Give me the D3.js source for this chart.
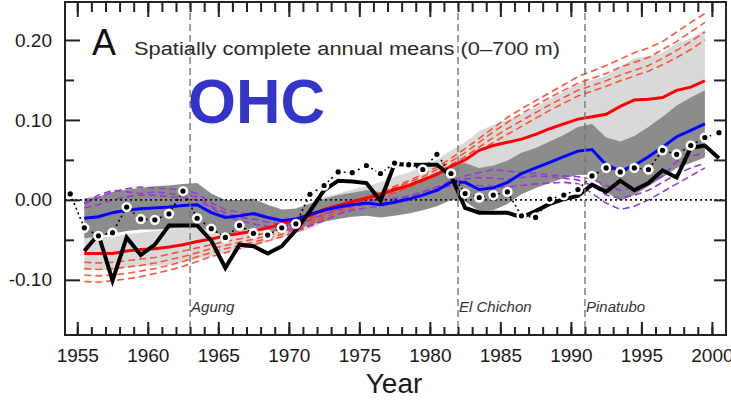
<!DOCTYPE html>
<html>
<head>
<meta charset="utf-8">
<script src="https://cdn.jsdelivr.net/npm/d3@7"></script>
<style>
  html, body { margin: 0; padding: 0; background: #fff; }
  svg { display: block; font-family: "Liberation Sans", Arial, Helvetica, sans-serif; }
</style>
</head>
<body>
<svg id="chart" width="731" height="400"></svg>
<script>
// Model ensemble years (annual means, plotted at mid-year)
const modelYears = d3.range(1955, 2000);
// Observation years
const obsYears = d3.range(1954, 2001);

// Ensemble mean with volcanic forcing (blue) and its spread (dark band)
const meanV = [
  -0.023, -0.021, -0.016, -0.013, -0.011, -0.010, -0.009, -0.007, -0.006,
  -0.016, -0.022, -0.020, -0.017, -0.022, -0.026, -0.024, -0.018, -0.013,
  -0.009, -0.006, -0.004, -0.006, -0.003, 0.001, 0.006, 0.012, 0.022,
  0.022, 0.013, 0.015, 0.022, 0.033, 0.040, 0.047, 0.054, 0.061,
  0.063, 0.044, 0.036, 0.043, 0.054, 0.066, 0.079, 0.087, 0.095
];
const spreadV = [
  0.025, 0.025, 0.026, 0.026, 0.026, 0.027, 0.027, 0.027, 0.027,
  0.024, 0.022, 0.020, 0.018, 0.016, 0.014, 0.013, 0.013, 0.014,
  0.015, 0.015, 0.016, 0.016, 0.017, 0.018, 0.019, 0.020, 0.022,
  0.024, 0.027, 0.028, 0.027, 0.026, 0.025, 0.026, 0.027, 0.030,
  0.032, 0.034, 0.037, 0.037, 0.037, 0.038, 0.039, 0.041, 0.042
];

// Ensemble mean without volcanic forcing (red) and its spread (light band)
const meanNoV = [
  -0.067, -0.067, -0.067, -0.064, -0.062, -0.061, -0.059, -0.056, -0.052,
  -0.049, -0.045, -0.042, -0.039, -0.035, -0.030, -0.026, -0.020, -0.012,
  -0.007, -0.002, 0.002, 0.007, 0.013, 0.018, 0.025, 0.032, 0.042,
  0.050, 0.062, 0.068, 0.072, 0.076, 0.082, 0.089, 0.095, 0.101,
  0.104, 0.107, 0.117, 0.125, 0.126, 0.128, 0.137, 0.141, 0.149
];
const spreadNoV = [
  0.020, 0.020, 0.021, 0.021, 0.021, 0.022, 0.022, 0.022, 0.022,
  0.022, 0.021, 0.020, 0.019, 0.018, 0.017, 0.016, 0.016, 0.016,
  0.015, 0.015, 0.015, 0.015, 0.016, 0.016, 0.017, 0.018, 0.020,
  0.022, 0.024, 0.026, 0.028, 0.031, 0.034, 0.037, 0.040, 0.044,
  0.046, 0.048, 0.050, 0.052, 0.054, 0.056, 0.059, 0.061, 0.064
];

// Individual runs with volcanic forcing (purple dashed)
const runV1 = [
  -0.005, 0.003, 0.010, 0.014, 0.016, 0.015, 0.014, 0.012, 0.008,
  -0.004, -0.012, -0.016, -0.019, -0.022, -0.024, -0.027, -0.020, -0.012,
  -0.008, -0.004, -0.002, 0.000, 0.002, 0.005, 0.010, 0.016, 0.024,
  0.030, 0.034, 0.038, 0.036, 0.034, 0.033, 0.031, 0.030, 0.029,
  0.026, 0.018, 0.012, 0.016, 0.020, 0.030, 0.048, 0.055, 0.058
];
const runV2 = [
  -0.010, -0.006, 0.000, 0.004, 0.006, 0.006, 0.004, 0.003, 0.000,
  -0.010, -0.020, -0.026, -0.030, -0.033, -0.036, -0.038, -0.032, -0.026,
  -0.018, -0.013, -0.010, -0.008, -0.004, 0.000, 0.006, 0.012, 0.018,
  0.020, 0.018, 0.017, 0.016, 0.018, 0.020, 0.021, 0.022, 0.020,
  0.008, -0.004, -0.012, -0.008, 0.000, 0.010, 0.020, 0.030, 0.040
];
const runV3 = [
  -0.004, 0.006, 0.012, 0.010, 0.008, 0.010, 0.008, 0.006, 0.004,
  -0.008, -0.016, -0.022, -0.024, -0.028, -0.030, -0.032, -0.025, -0.018,
  -0.012, -0.008, -0.006, -0.004, 0.000, 0.004, 0.010, 0.016, 0.022,
  0.026, 0.028, 0.027, 0.026, 0.028, 0.030, 0.029, 0.027, 0.025,
  0.018, 0.006, 0.002, 0.006, 0.012, 0.022, 0.032, 0.040, 0.046
];

// Individual runs without volcanic forcing (red dashed)
const runNoV1 = [
  -0.078, -0.079, -0.078, -0.076, -0.074, -0.072, -0.068, -0.064, -0.060,
  -0.056, -0.052, -0.049, -0.045, -0.041, -0.036, -0.031, -0.024, -0.015,
  -0.009, -0.003, 0.004, 0.010, 0.017, 0.024, 0.032, 0.041, 0.052,
  0.064, 0.077, 0.090, 0.103, 0.114, 0.124, 0.134, 0.144, 0.154,
  0.161, 0.168, 0.176, 0.184, 0.190, 0.198, 0.210, 0.222, 0.233
];
const runNoV2 = [
  -0.086, -0.087, -0.086, -0.084, -0.082, -0.079, -0.075, -0.071, -0.066,
  -0.061, -0.057, -0.053, -0.049, -0.045, -0.040, -0.034, -0.027, -0.019,
  -0.012, -0.005, 0.002, 0.008, 0.015, 0.022, 0.029, 0.038, 0.048,
  0.059, 0.072, 0.085, 0.097, 0.108, 0.118, 0.128, 0.137, 0.146,
  0.152, 0.158, 0.166, 0.172, 0.178, 0.188, 0.198, 0.210, 0.222
];
const runNoV3 = [
  -0.094, -0.095, -0.094, -0.092, -0.089, -0.086, -0.082, -0.077, -0.071,
  -0.066, -0.061, -0.057, -0.053, -0.048, -0.043, -0.037, -0.030, -0.022,
  -0.015, -0.008, -0.001, 0.006, 0.012, 0.019, 0.026, 0.034, 0.044,
  0.054, 0.066, 0.078, 0.089, 0.099, 0.109, 0.119, 0.128, 0.137,
  0.143, 0.149, 0.156, 0.162, 0.168, 0.177, 0.187, 0.198, 0.210
];
const runNoV4 = [
  -0.102, -0.103, -0.101, -0.099, -0.096, -0.092, -0.088, -0.083, -0.077,
  -0.071, -0.066, -0.061, -0.056, -0.051, -0.046, -0.040, -0.033, -0.025,
  -0.018, -0.011, -0.004, 0.003, 0.009, 0.016, 0.023, 0.031, 0.040,
  0.050, 0.061, 0.072, 0.082, 0.092, 0.102, 0.112, 0.121, 0.130,
  0.136, 0.142, 0.149, 0.155, 0.161, 0.169, 0.178, 0.188, 0.200
];

// Observed heat content, first analysis (thick black, 1955-2000)
const obsSolid = [
  null,
  -0.064, -0.043, -0.101, -0.047, -0.069, -0.056, -0.032, -0.032, -0.032,
  -0.051, -0.085, -0.056, -0.058, -0.067, -0.058, -0.038, -0.014, 0.012,
  0.024, 0.023, 0.021, -0.001, 0.045, 0.044, 0.044, 0.044, 0.030,
  -0.010, -0.016, -0.016, -0.016, -0.022, -0.014, -0.005, 0.001, 0.005,
  0.019, 0.010, 0.024, 0.012, 0.021, 0.037, 0.028, 0.065, 0.068,
  0.052
];
// Observed heat content, second analysis (dotted with markers, 1954-2000)
const obsDotted = [
  0.0075,
  -0.035, -0.045, -0.041, -0.009, -0.024, -0.025, -0.0175, 0.011, -0.023,
  -0.036, -0.047, -0.032, -0.042, -0.044, -0.035, -0.030, 0.007, 0.018,
  0.035, 0.034, 0.043, 0.033, 0.046, 0.044, 0.038, 0.057, 0.033,
  0.008, 0.003, 0.006, 0.010, -0.020, -0.022, 0.001, 0.006, 0.013,
  0.030, 0.040, 0.035, 0.040, 0.038, 0.062, 0.057, 0.068, 0.078,
  0.084
];

// Volcanic eruptions
const eruptionYears = [1963, 1982, 1991];
const eruptionNames = ["Agung", "El Chichon", "Pinatubo"];

// Axis ticks
const yMajorTicks = [-0.10, 0.00, 0.10, 0.20];
const yMinorTicks = [-0.05, 0.05, 0.15];
const xMajorTicks = [1955, 1960, 1965, 1970, 1975, 1980, 1985, 1990, 1995, 2000];
const xMinorTicks = d3.range(1955, 2001);

const svg = d3.select("#chart");
const pLeft = 65, pRight = 726, pTop = 2, pBottom = 335;

const x = d3.scaleLinear().domain([1954.13, 2001.0]).range([pLeft, pRight]);
const y = d3.scaleLinear().domain([-0.169, 0.25]).range([pBottom, 0]);

const plot = svg.append("g");
plot.append("clipPath").attr("id", "clip")
  .append("rect").attr("x", pLeft).attr("y", pTop).attr("width", pRight - pLeft).attr("height", pBottom - pTop);
const g = plot.append("g").attr("clip-path", "url(#clip)");

const mx = i => x(modelYears[i] + 0.5);
const ox = i => x(obsYears[i] + 0.5);

// Spread bands
const bandNoV = d3.area().x((d, i) => mx(i))
  .y0((d, i) => y(meanNoV[i] - spreadNoV[i])).y1((d, i) => y(meanNoV[i] + spreadNoV[i]));
const bandV = d3.area().x((d, i) => mx(i))
  .y0((d, i) => y(meanV[i] - spreadV[i])).y1((d, i) => y(meanV[i] + spreadV[i]));
g.append("path").attr("d", bandNoV(meanNoV)).attr("fill", "#d9d9d9");
g.append("path").attr("d", bandV(meanV)).attr("fill", "#8c8c8c");

const modelLine = d3.line().x((d, i) => mx(i)).y(d => y(d));

// Individual runs
[runNoV1, runNoV2, runNoV3, runNoV4].forEach(run => {
  g.append("path").attr("d", modelLine(run)).attr("fill", "none")
    .attr("stroke", "#ff3a1a").attr("stroke-width", 1.6).attr("stroke-opacity", 0.85)
    .attr("stroke-dasharray", "7,4");
});
[runV1, runV2, runV3].forEach(run => {
  g.append("path").attr("d", modelLine(run)).attr("fill", "none")
    .attr("stroke", "#9a3ad6").attr("stroke-width", 1.6)
    .attr("stroke-dasharray", "7,4");
});

// Zero reference line
g.append("line").attr("x1", pLeft).attr("x2", pRight).attr("y1", y(0)).attr("y2", y(0))
  .attr("stroke", "#111").attr("stroke-width", 1.6).attr("stroke-dasharray", "2,3");

// Eruption markers
eruptionYears.forEach((yr, i) => {
  plot.append("line").attr("x1", x(yr)).attr("x2", x(yr)).attr("y1", pTop).attr("y2", pBottom)
    .attr("stroke", "#777").attr("stroke-width", 1.4).attr("stroke-dasharray", "7,4");
  plot.append("text").attr("x", x(yr) + 1).attr("y", 312)
    .attr("font-size", 15).attr("font-style", "italic").attr("fill", "#333")
    .text(eruptionNames[i]);
});

// Ensemble means
g.append("path").attr("d", modelLine(meanNoV)).attr("fill", "none")
  .attr("stroke", "#ff0000").attr("stroke-width", 3);
g.append("path").attr("d", modelLine(meanV)).attr("fill", "none")
  .attr("stroke", "#0000ff").attr("stroke-width", 3);

// Observations
const obsLine = d3.line().defined(d => d != null).x((d, i) => ox(i)).y(d => y(d));
g.append("path").attr("d", obsLine(obsSolid)).attr("fill", "none")
  .attr("stroke", "#000").attr("stroke-width", 4).attr("stroke-linejoin", "miter");
g.append("path").attr("d", obsLine(obsDotted)).attr("fill", "none")
  .attr("stroke", "#000").attr("stroke-width", 1.6).attr("stroke-dasharray", "2,3");
const marks = g.append("g");
marks.selectAll("circle.halo").data(obsDotted).join("circle").attr("class", "halo")
  .attr("cx", (d, i) => ox(i)).attr("cy", d => y(d)).attr("r", 5.2).attr("fill", "#fff");
marks.selectAll("circle.dot").data(obsDotted).join("circle").attr("class", "dot")
  .attr("cx", (d, i) => ox(i)).attr("cy", d => y(d)).attr("r", 2.6).attr("fill", "#000");

// Frame
plot.append("rect").attr("x", pLeft).attr("y", pTop).attr("width", pRight - pLeft).attr("height", pBottom - pTop)
  .attr("fill", "none").attr("stroke", "#222").attr("stroke-width", 2);

const fmt = d => d3.format(".2f")(d).replace("\u2212", "-");

// Left axis
const yAxisL = svg.append("g").attr("transform", `translate(${pLeft},0)`)
  .call(d3.axisLeft(y).tickValues(yMajorTicks).tickSizeInner(-15).tickSizeOuter(0).tickPadding(13).tickFormat(fmt));
const yAxisLm = svg.append("g").attr("transform", `translate(${pLeft},0)`)
  .call(d3.axisLeft(y).tickValues(yMinorTicks).tickSizeInner(-9).tickSizeOuter(0).tickFormat(""));
// Right axis
const yAxisR = svg.append("g").attr("transform", `translate(${pRight},0)`)
  .call(d3.axisRight(y).tickValues(yMajorTicks.concat(yMinorTicks)).tickSizeInner(-12).tickSizeOuter(0).tickFormat(""));
// Bottom axis
const xAxisB = svg.append("g").attr("transform", `translate(0,${pBottom})`)
  .call(d3.axisBottom(x).tickValues(xMajorTicks).tickSizeInner(-13).tickSizeOuter(0).tickPadding(14).tickFormat(d3.format("d")));
const xAxisBm = svg.append("g").attr("transform", `translate(0,${pBottom})`)
  .call(d3.axisBottom(x).tickValues(xMinorTicks).tickSizeInner(-8).tickSizeOuter(0).tickFormat(""));
// Top axis
const xAxisT = svg.append("g").attr("transform", `translate(0,${pTop})`)
  .call(d3.axisTop(x).tickValues(xMajorTicks).tickSizeInner(-15).tickSizeOuter(0).tickFormat(""));
const xAxisTm = svg.append("g").attr("transform", `translate(0,${pTop})`)
  .call(d3.axisTop(x).tickValues(xMinorTicks).tickSizeInner(-10).tickSizeOuter(0).tickFormat(""));

[yAxisL, yAxisLm, yAxisR, xAxisB, xAxisBm, xAxisT, xAxisTm].forEach(a => {
  a.select(".domain").remove();
  a.selectAll(".tick line").attr("stroke", "#222").attr("stroke-width", 2);
  a.selectAll(".tick text").attr("fill", "#1a1a1a").attr("font-family", "Liberation Sans, Arial, sans-serif");
});
yAxisL.selectAll(".tick text").attr("font-size", 19);
xAxisB.selectAll(".tick text").attr("font-size", 19);

// Titles
svg.append("text").attr("x", 92).attr("y", 55).attr("font-size", 36).attr("fill", "#111").text("A");
svg.append("text").attr("x", 134).attr("y", 55).attr("font-size", 18).attr("fill", "#2a2a2a")
  .attr("textLength", 426).attr("lengthAdjust", "spacingAndGlyphs")
  .text("Spatially complete annual means (0\u2013700 m)");
svg.append("text").attr("x", 188).attr("y", 123).attr("font-size", 63).attr("font-weight", "bold")
  .attr("fill", "#3434c8").attr("textLength", 137).attr("lengthAdjust", "spacingAndGlyphs").text("OHC");
svg.append("text").attr("x", 394).attr("y", 393).attr("text-anchor", "middle")
  .attr("font-size", 28).attr("fill", "#1a1a1a").text("Year");
</script>
</body>
</html>
